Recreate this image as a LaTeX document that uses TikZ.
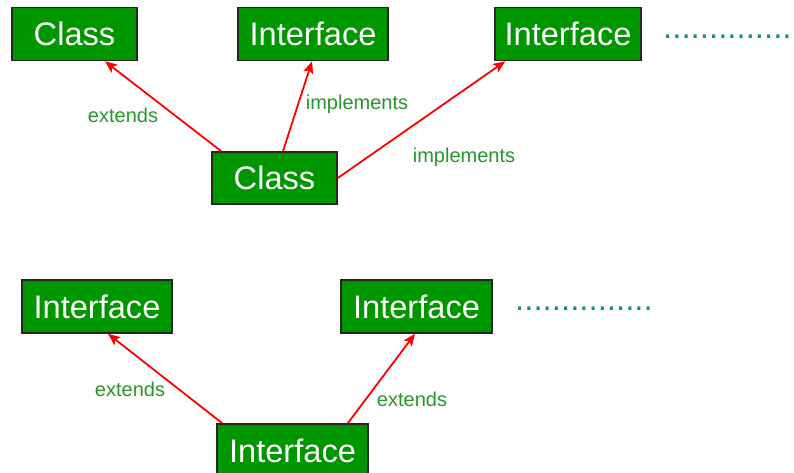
\documentclass[tikz,border=0pt]{standalone}
\usepackage{fontspec}
\setmainfont{Liberation Sans}
\usetikzlibrary{arrows.meta}
\definecolor{boxgreen}{RGB}{0,150,0}
\definecolor{labgreen}{RGB}{40,150,40}
\definecolor{dotgreen}{RGB}{20,150,80}
\tikzset{
  gbox/.style={draw=black!85, line width=1.6pt, fill=boxgreen, text=white,
    minimum height=53pt, inner sep=0pt, font=\fontsize{32.6}{39}\selectfont},
  rel/.style={draw=red, line width=1.8pt, -{Stealth[length=12pt,width=10pt,inset=2.5pt]}, shorten >=0pt},
  lab/.style={text=labgreen, inner sep=0pt, font=\fontsize{20}{24}\selectfont},
  dots/.style={text=dotgreen, inner sep=0pt, anchor=west, font=\fontsize{33}{39}\selectfont}
}
\begin{document}
\begin{tikzpicture}[x=1pt,y=-1pt]
\useasboundingbox (0,0) rectangle (794,473);
\begin{scope}
\clip (0,0) rectangle (794,473);
\node[gbox, minimum width=125pt] (c1) at (74.5,34) {Class};
\node[gbox, minimum width=150pt] (i1) at (313,34) {Interface};
\node[gbox, minimum width=146pt] (i2) at (568,34) {Interface};
\node[gbox, minimum width=125pt, minimum height=52pt] (c0) at (274.5,178) {Class};
\node[dots] (d1) at (663,37) {..............};

\node[gbox, minimum width=150pt] (bl) at (97,306.5) {Interface};
\node[gbox, minimum width=151pt] (br) at (416.5,306.5) {Interface};
\node[gbox, minimum width=151pt] (bc) at (292.5,450.5) {Interface};
\node[dots] (d2) at (515,309) {...............};

\draw[rel] ([xshift=10pt]c0.north west) -- ([xshift=30.5pt]c1.south);
\draw[rel] ([xshift=8.5pt]c0.north) -- ([xshift=-1pt]i1.south);
\draw[rel] (c0.east) -- ([xshift=11pt]i2.south west);
\draw[rel] ([xshift=6pt]bc.north west) -- ([xshift=11pt]bl.south);
\draw[rel] ([xshift=-21pt]bc.north east) -- ([xshift=-1.5pt]br.south);

\node[lab] (l1) at (123,115) {extends};
\node[lab] (l2) at (357,104) {implements};
\node[lab] (l3) at (464,157) {implements};
\node[lab] (l4) at (130,389) {extends};
\node[lab] (l5) at (412,399) {extends};
\end{scope}
\end{tikzpicture}
\end{document}
